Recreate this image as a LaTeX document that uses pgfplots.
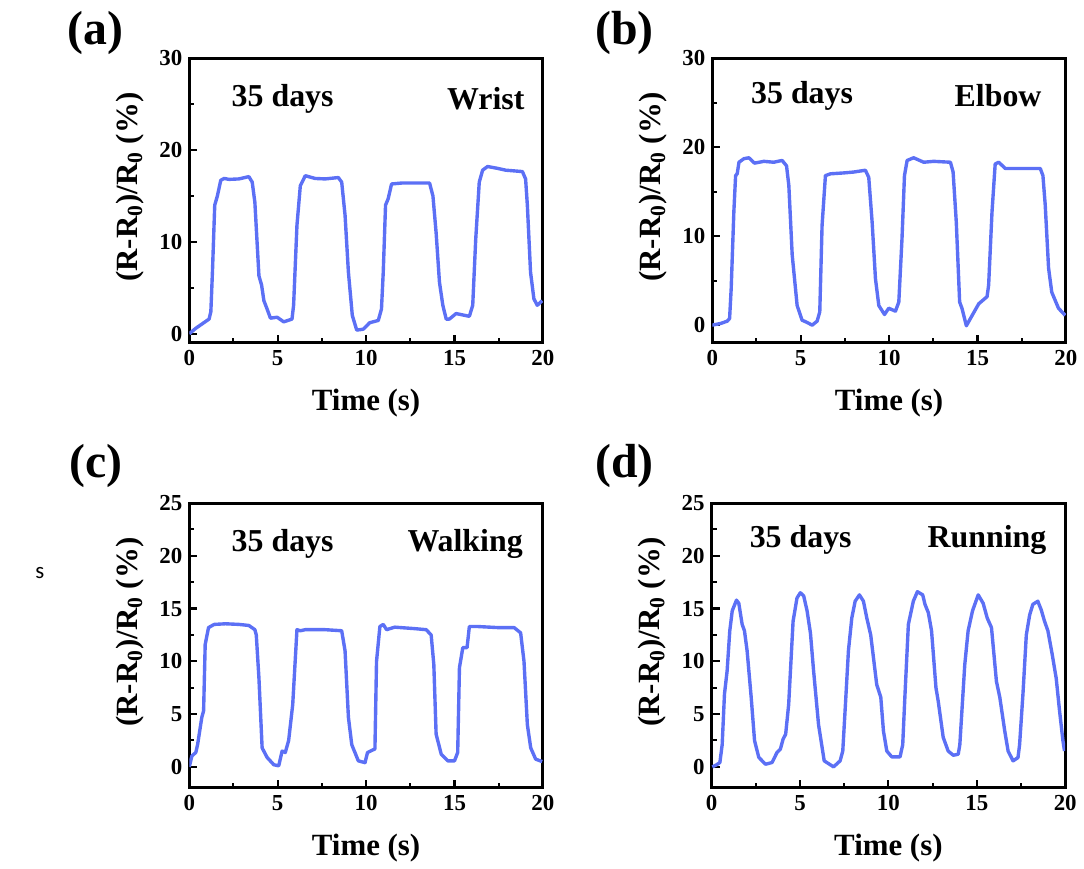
\documentclass[border=0pt]{standalone}
\usepackage{pgfplots}
\pgfplotsset{compat=1.18}
\usepackage{fontspec}
\setmainfont{Liberation Serif}
\newfontfamily\calibri{Carlito}
\definecolor{lc}{RGB}{92,112,245}
\tikzset{intxt/.style={font=\fontsize{16}{18}\selectfont\bfseries, inner sep=0pt}}
\pgfplotsset{
 panel/.style={
  scale only axis, width=177.5pt, height=143pt,
  anchor=south west,
  xmin=0,xmax=20, xtick={0,5,...,20}, minor x tick num=1, minor y tick num=1,
  tick pos=left, tick align=inside,
  axis line style={line width=1.5pt},
  major tick style={line width=1.1pt, black}, major tick length=4pt,
  minor tick length=2.5pt, minor tick style={line width=1.0pt,black},
  ticklabel style={font=\fontsize{11.5}{13}\selectfont\bfseries},
  /pgf/number format/assume math mode=true,
  label style={font=\fontsize{15.5}{17}\selectfont\bfseries},
  xlabel={Time (s)},
  ylabel={(R-R\textsubscript{0})/R\textsubscript{0} (\%)},
  xlabel style={at={(axis description cs:0.5,-0.21)},anchor=center},
  ylabel style={at={(axis description cs:-0.167,0.547)},anchor=center},
  cycle list={lc},
  every axis plot/.append style={line width=1.7pt, line join=round},
  no marks,
 },
}
\begin{document}
\begin{tikzpicture}
\path (0,0) rectangle (542pt,434.5pt);
\node[font=\fontsize{24}{26}\selectfont\bfseries] at (48pt,418pt) {(a)};
\node[font=\fontsize{24}{26}\selectfont\bfseries] at (313.5pt,418pt) {(b)};
\node[font=\fontsize{24}{26}\selectfont\bfseries] at (48pt,200.5pt) {(c)};
\node[font=\fontsize{24}{26}\selectfont\bfseries] at (313.5pt,200.5pt) {(d)};
\node[font=\calibri\fontsize{11.5}{13}\selectfont] at (20pt,147pt) {s};
% (a)
\begin{axis}[panel, at={(95pt,262.35pt)}, ymin=-1, ymax=30, ytick={0,10,20,30}]
\addplot coordinates {(0,0) (0.37,0.6) (1.12,1.6) (1.22,2.4) (1.31,6.7) (1.44,14) (1.59,15) (1.78,16.7) (1.97,16.9) (2.25,16.8) (2.81,16.85) (3.37,17.1) (3.56,16.5) (3.71,14.3) (3.94,6.3) (4.09,5.3) (4.22,3.6) (4.4,2.7) (4.59,1.7) (4.97,1.8) (5.34,1.3) (5.81,1.6) (5.9,3.1) (6.09,11.8) (6.28,16.1) (6.56,17.2) (7.12,16.9) (7.69,16.85) (8.43,17.0) (8.62,16.5) (8.81,12.9) (9.0,6.7) (9.22,2.0) (9.47,0.4) (9.84,0.5) (10.2,1.2) (10.69,1.45) (10.87,2.7) (10.97,6.7) (11.1,14) (11.25,14.7) (11.44,16.3) (12.0,16.4) (12.75,16.4) (13.59,16.4) (13.78,15) (13.96,11) (14.15,5.6) (14.34,3.1) (14.53,1.6) (14.71,1.6) (15.09,2.2) (15.84,1.9) (16.03,3.1) (16.2,10.3) (16.4,16.5) (16.59,17.8) (16.87,18.2) (17.43,18.0) (17.9,17.8) (18.84,17.65) (19.02,16.85) (19.12,14) (19.3,6.7) (19.49,3.8) (19.68,3.1) (19.96,3.6)};
\node[intxt,anchor=center] at (rel axis cs:0.264,0.858) {35 days};
\node[intxt,anchor=east] at (rel axis cs:0.949,0.858) {Wrist};
\end{axis}
% (b)
\begin{axis}[panel, at={(357.5pt,262.35pt)}, ymin=-2, ymax=30, ytick={0,10,20,30}]
\addplot coordinates {(0,0) (0.47,0.19) (0.85,0.45) (0.98,0.75) (1.07,4.1) (1.22,12.7) (1.32,16.8) (1.41,17.0) (1.51,18.3) (1.79,18.7) (2.07,18.8) (2.39,18.2) (2.92,18.4) (3.48,18.3) (3.95,18.5) (4.2,17.9) (4.33,15.7) (4.52,7.9) (4.8,2.2) (5.08,0.56) (5.37,0.3) (5.65,0) (5.93,0.45) (6.08,1.5) (6.21,11.2) (6.4,16.8) (6.69,17.0) (7.44,17.1) (8.0,17.2) (8.66,17.4) (8.85,16.6) (9.04,11.6) (9.23,5.2) (9.42,2.2) (9.74,1.2) (9.98,1.9) (10.36,1.57) (10.55,2.6) (10.73,9.7) (10.87,16.8) (11.02,18.5) (11.39,18.8) (11.96,18.3) (12.52,18.4) (13.47,18.3) (13.62,17.2) (13.8,11.6) (13.99,2.6) (14.12,1.9) (14.37,-0.07) (14.6,0.75) (15.07,2.4) (15.54,3.2) (15.63,4.5) (15.82,12.7) (16.0,18.1) (16.2,18.3) (16.57,17.6) (17.23,17.6) (18.55,17.6) (18.7,16.8) (18.83,13.5) (19.02,6.4) (19.2,3.7) (19.58,1.9) (19.96,1.1)};
\node[intxt,anchor=center] at (rel axis cs:0.254,0.869) {35 days};
\node[intxt,anchor=east] at (rel axis cs:0.932,0.869) {Elbow};
\end{axis}
% (c)
\begin{axis}[panel, at={(95pt,39pt)}, ymin=-2, ymax=25, ytick={0,5,...,25}]
\addplot coordinates {(0,0) (0.15,1.04) (0.37,1.36) (0.47,2.1) (0.71,4.7) (0.81,5.3) (0.9,11.6) (1.09,13.2) (1.41,13.5) (2.06,13.56) (2.81,13.5) (3.37,13.4) (3.71,13.0) (3.79,12.5) (3.94,8.4) (4.12,1.8) (4.4,0.9) (4.78,0.2) (5.06,0.1) (5.25,1.5) (5.43,1.36) (5.62,2.5) (5.85,5.9) (6.09,13.0) (6.28,12.9) (6.56,13.0) (7.69,13.0) (8.62,12.9) (8.81,11) (9.0,4.7) (9.19,2.1) (9.56,0.57) (9.94,0.4) (10.08,1.36) (10.5,1.7) (10.59,10) (10.78,13.3) (10.97,13.5) (11.16,13.0) (11.62,13.24) (12.75,13.1) (13.4,13.0) (13.68,12.5) (13.83,9.7) (13.96,3.1) (14.25,1.2) (14.62,0.57) (15.0,0.57) (15.18,1.36) (15.28,9.4) (15.47,11.3) (15.71,11.3) (15.84,13.3) (16.31,13.3) (17.43,13.2) (18.37,13.2) (18.74,12.7) (18.93,10.0) (19.12,4.0) (19.31,1.8) (19.59,0.73) (19.96,0.5)};
\node[intxt,anchor=center] at (rel axis cs:0.264,0.856) {35 days};
\node[intxt,anchor=east] at (rel axis cs:0.944,0.856) {Walking};
\end{axis}
% (d)
\begin{axis}[panel, at={(357.15pt,39pt)}, ymin=-2, ymax=25, ytick={0,5,...,25}]
\addplot coordinates {(0.04,0) (0.28,0.19) (0.47,0.41) (0.6,2.1) (0.73,6.9) (0.88,9.1) (1.03,12.9) (1.17,14.8) (1.41,15.8) (1.54,15.5) (1.73,13.5) (1.86,12.9) (2.01,11.0) (2.24,6.6) (2.43,2.5) (2.67,0.9) (3.05,0.25) (3.42,0.41) (3.7,1.36) (3.89,1.67) (4.04,2.6) (4.19,3.1) (4.36,5.9) (4.61,13.8) (4.83,16.0) (5.02,16.5) (5.21,16.2) (5.4,14.8) (5.59,12.7) (5.77,9.1) (6.05,4.0) (6.37,0.57) (6.9,0) (7.27,0.57) (7.42,1.5) (7.56,5.6) (7.74,11.0) (7.93,14.1) (8.12,15.7) (8.36,16.3) (8.59,15.7) (8.78,14.1) (9.0,12.5) (9.34,7.8) (9.57,6.6) (9.72,3.4) (9.91,1.5) (10.19,0.95) (10.66,0.95) (10.81,2.1) (10.94,6.9) (11.13,13.5) (11.41,15.7) (11.64,16.6) (11.94,16.3) (12.07,15.4) (12.26,14.6) (12.44,12.9) (12.69,7.5) (12.82,6.2) (13.1,2.8) (13.38,1.5) (13.67,1.1) (13.95,1.2) (14.04,2.1) (14.32,9.7) (14.51,12.9) (14.76,14.8) (15.08,16.3) (15.36,15.5) (15.59,14.1) (15.83,13.2) (16.11,8.1) (16.3,6.6) (16.58,3.4) (16.77,1.5) (17.05,0.57) (17.33,0.88) (17.42,2.1) (17.61,6.9) (17.8,12.5) (17.99,14.4) (18.17,15.4) (18.45,15.7) (18.64,14.9) (18.83,13.8) (19.02,12.9) (19.26,10.7) (19.49,8.4) (19.68,5.3) (19.87,2.5) (19.96,1.5)};
\node[intxt,anchor=center] at (rel axis cs:0.252,0.87) {35 days};
\node[intxt,anchor=east] at (rel axis cs:0.948,0.87) {Running};
\end{axis}
\end{tikzpicture}
\end{document}
